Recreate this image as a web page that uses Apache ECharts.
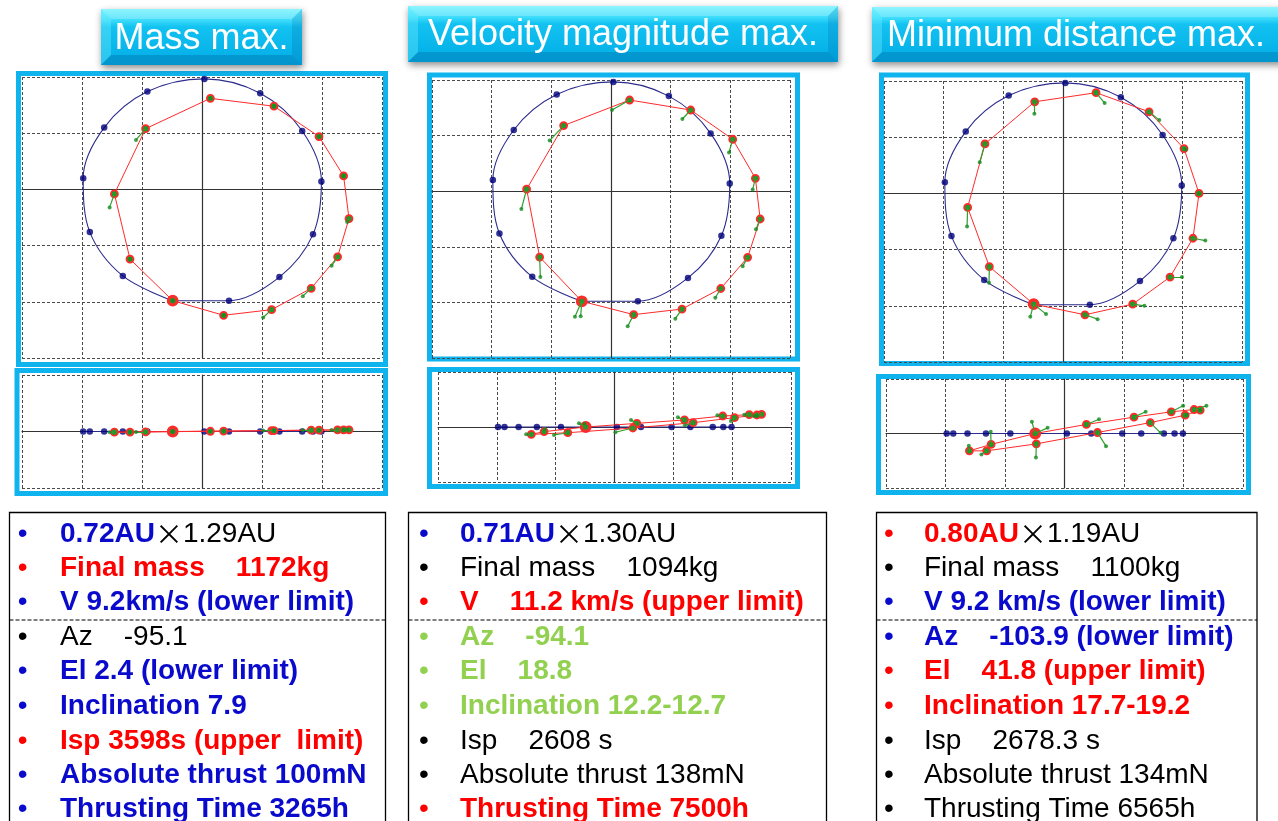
<!DOCTYPE html>
<html>
<head>
<meta charset="utf-8">
<script src="https://cdn.jsdelivr.net/npm/echarts@6/dist/echarts.min.js"></script>
<style>
  html, body { margin: 0; padding: 0; background: #ffffff; }
  #main { width: 1278px; height: 821px; }
</style>
</head>
<body>
<div id="main"></div>
<script>
// Earth positions over one year (AU, ecliptic plane), same for all three cases
const earthX = [-0.245, 0.225, 0.645, 0.925, 0.995, 0.835, 0.485, 0.02, -0.455, -0.815, -0.99, -0.935, -0.66, -0.245];
const earthY = [-0.99, -0.99, -0.78, -0.40, 0.07, 0.52, 0.855, 0.983, 0.87, 0.55, 0.10, -0.38, -0.77, -0.99];

// Case 1: mass max. — spacecraft positions and thrust vector tips (AU)
const massScX = [-0.244, 0.18, 0.58, 0.91, 1.13, 1.225, 1.18, 0.975, 0.60, 0.07, -0.47, -0.73, -0.60, -0.244];
const massScY = [-0.99, -1.12, -1.07, -0.88, -0.60, -0.26, 0.12, 0.47, 0.74, 0.81, 0.54, -0.04, -0.62, -0.99];
const massScZ = [0, 0.004, 0.008, 0.012, 0.014, 0.015, 0.015, 0.012, 0.008, 0.002, -0.004, -0.006, -0.005, 0];
const massThX = [-0.244, 0.18, 0.51, 0.84, 1.08, 1.21, 1.18, 0.975, 0.60, 0.07, -0.55, -0.77, -0.60, -0.244];
const massThY = [-0.99, -1.12, -1.14, -0.95, -0.68, -0.29, 0.12, 0.47, 0.74, 0.81, 0.44, -0.16, -0.62, -0.99];
const massThZ = [0, 0.004, 0.008, 0.012, 0.014, 0.015, 0.015, 0.012, 0.008, 0.002, -0.004, -0.006, -0.005, 0];

// Case 2: velocity magnitude max.
const velScX = [-0.245, 0.19, 0.595, 0.92, 1.145, 1.25, 1.21, 1.02, 0.668, 0.156, -0.397, -0.707, -0.598, -0.245];
const velScY = [-0.99, -1.11, -1.06, -0.875, -0.595, -0.25, 0.116, 0.467, 0.73, 0.82, 0.59, 0.018, -0.592, -0.99];
const velScZ = [0, 0.033, 0.064, 0.10, 0.112, 0.115, 0.109, 0.085, 0.039, -0.009, -0.052, -0.067, -0.042, 0];
const velThX = [-0.302, 0.14, 0.539, 0.874, 1.103, 1.215, 1.187, 0.989, 0.598, 0.008, -0.514, -0.751, -0.592, -0.254];
const velThY = [-1.128, -1.214, -1.146, -0.958, -0.676, -0.342, 0.015, 0.348, 0.649, 0.73, 0.455, -0.161, -0.771, -1.125];
const velThZ = [0.033, 0.064, 0.088, 0.106, 0.112, 0.10, 0.10, 0.055, 0.015, -0.048, -0.073, -0.067, -0.018, 0.03];

// Case 3: minimum distance max.
const distScX = [-0.246, 0.184, 0.584, 0.897, 1.089, 1.14, 1.014, 0.721, 0.277, -0.237, -0.654, -0.799, -0.617, -0.246];
const distScY = [-0.985, -1.08, -0.985, -0.744, -0.399, 0.0, 0.399, 0.726, 0.896, 0.815, 0.44, -0.125, -0.652, -0.985];
const distScZ = [0, 0.083, 0.15, 0.199, 0.22, 0.214, 0.168, 0.10, 0.009, -0.095, -0.159, -0.159, -0.10, 0];
const distThX = [-0.142, 0.29, 0.682, 0.997, 1.193, 1.14, 1.028, 0.807, 0.349, -0.24, -0.698, -0.804, -0.62, -0.274];
const distThY = [-1.074, -1.119, -1.0, -0.744, -0.42, 0.0, 0.39, 0.652, 0.804, 0.708, 0.277, -0.295, -0.795, -1.098];
const distThZ = [0.052, 0.131, 0.199, 0.254, 0.254, 0.214, 0.17, 0.006, -0.116, -0.22, -0.193, -0.113, 0.015, 0.107];

// Panel titles
const titles = ['Mass max.', 'Velocity magnitude max.', 'Minimum distance max.'];

// Text colours
const BLUE = '#0a0acc', RED = '#ff0000', GREEN = '#92d050', BLACK = '#000000';

// Result summaries: [bullet colour, rich text]
const massNotes = [
  [BLUE, '{B|0.72AU}{x|×}{K|1.29AU}'],
  [RED, '{R|Final mass    1172kg}'],
  [BLUE, '{B|V 9.2km/s (lower limit)}'],
  [BLACK, '{K|Az    -95.1}'],
  [BLUE, '{B|El 2.4 (lower limit)}'],
  [BLUE, '{B|Inclination 7.9}'],
  [RED, '{R|Isp 3598s (upper  limit)}'],
  [BLUE, '{B|Absolute thrust 100mN}'],
  [BLUE, '{B|Thrusting Time 3265h}']
];
const velNotes = [
  [BLUE, '{B|0.71AU}{x|×}{K|1.30AU}'],
  [BLACK, '{K|Final mass    1094kg}'],
  [RED, '{R|V    11.2 km/s (upper limit)}'],
  [GREEN, '{G|Az    -94.1}'],
  [GREEN, '{G|El    18.8}'],
  [GREEN, '{G|Inclination 12.2-12.7}'],
  [BLACK, '{K|Isp    2608 s}'],
  [BLACK, '{K|Absolute thrust 138mN}'],
  [RED, '{R|Thrusting Time 7500h}']
];
const distNotes = [
  [RED, '{R|0.80AU}{x|×}{K|1.19AU}'],
  [BLACK, '{K|Final mass    1100kg}'],
  [BLUE, '{B|V 9.2 km/s (lower limit)}'],
  [BLUE, '{B|Az    -103.9 (lower limit)}'],
  [RED, '{R|El    41.8 (upper limit)}'],
  [RED, '{R|Inclination 17.7-19.2}'],
  [BLACK, '{K|Isp    2678.3 s}'],
  [BLACK, '{K|Absolute thrust 134mN}'],
  [BLACK, '{K|Thrusting Time 6565h}']
];

const FONT = '"Liberation Sans", Arial, Helvetica, sans-serif';
const CYAN = '#0fb4ee';

// ---------- plot areas ----------
const grids = [
  { left: 22,  top: 77,  width: 360, height: 281 },  // case 1, top view
  { left: 22,  top: 375, width: 360, height: 113 },  // case 1, side view
  { left: 432, top: 80,  width: 358, height: 278 },  // case 2, top view
  { left: 438, top: 372, width: 353, height: 110 },  // case 2, side view
  { left: 884, top: 81,  width: 358, height: 281 },  // case 3, top view
  { left: 886, top: 379, width: 357, height: 109 }   // case 3, side view
];

const gridLine = { show: true, lineStyle: { color: '#4a4a4a', type: [3, 2], width: 1 } };
const zeroLine = { show: true, onZero: true, lineStyle: { color: '#333333', width: 1.2 } };

const xAxes = grids.map((g, i) => ({
  type: 'value', gridIndex: i, min: -1.5, max: 1.5, interval: 0.5,
  axisLabel: { show: false }, axisTick: { show: false },
  axisLine: zeroLine, splitLine: gridLine
}));
const yAxes = grids.map((g, i) => {
  const side = i % 2 === 1;
  return {
    type: 'value', gridIndex: i,
    min: side ? -0.5 : -1.5, max: side ? 0.5 : 1.0, interval: 0.5,
    axisLabel: { show: false }, axisTick: { show: false },
    axisLine: zeroLine, splitLine: gridLine
  };
});

// ---------- series ----------
const pts = (a, b) => a.map((v, i) => [v, b[i]]);
const series = [];

function addView(gi, ex, ey, sx, sy, tx, ty, smoothOrbit) {
  const ax = { xAxisIndex: gi, yAxisIndex: gi, silent: true, animation: false };
  // Earth orbit
  series.push(Object.assign({
    type: 'line', data: pts(ex, ey), smooth: smoothOrbit ? 0.34 : false,
    symbol: 'none', lineStyle: { color: '#2b2b8c', width: 1.1 }, z: 2
  }, ax));
  // Earth positions
  series.push(Object.assign({
    type: 'scatter', data: pts(ex, ey), symbolSize: 6.5,
    itemStyle: { color: '#00007a' }, z: 3
  }, ax));
  // Spacecraft trajectory
  const traj = pts(sx, sy).map((p, i) => i === 0 ? { value: p, symbolSize: 10 } : p);
  series.push(Object.assign({
    type: 'line', data: traj, symbol: 'circle', symbolSize: 7, showSymbol: true,
    lineStyle: { color: '#ff2a2a', width: 1 },
    itemStyle: { color: '#1f9a2a', borderColor: '#ff2a2a', borderWidth: 1.8 }, z: 4
  }, ax));
  // Thrust vectors
  series.push(Object.assign({
    type: 'lines', coordinateSystem: 'cartesian2d', polyline: false,
    symbol: ['none', 'none'],
    data: sx.map((v, i) => ({ coords: [[v, sy[i]], [tx[i], ty[i]]] })),
    lineStyle: { color: '#2f9e2f', width: 1.2, opacity: 1, curveness: 0 }, z: 5
  }, ax));
  series.push(Object.assign({
    type: 'scatter', data: pts(tx, ty), symbolSize: 4,
    itemStyle: { color: '#148c1e' }, z: 6
  }, ax));
}

const zeros = earthX.map(() => 0);
const cases = [
  [massScX, massScY, massScZ, massThX, massThY, massThZ],
  [velScX, velScY, velScZ, velThX, velThY, velThZ],
  [distScX, distScY, distScZ, distThX, distThY, distThZ]
];
cases.forEach((c, k) => {
  addView(2 * k, earthX, earthY, c[0], c[1], c[3], c[4], true);
  addView(2 * k + 1, earthX, zeros, c[0], c[2], c[3], c[5], false);
});

// ---------- decorations ----------
const graphic = [];

// cyan frames around each plot
const frames = [
  [18.5, 73.5, 367, 291], [17, 370.5, 368.5, 123],
  [429.5, 75, 368, 284], [429.5, 369.5, 368, 117],
  [881.5, 75, 366, 288.5], [878.5, 376.5, 370, 116]
];
frames.forEach(f => graphic.push({
  type: 'rect', silent: true,
  shape: { x: f[0], y: f[1], width: f[2], height: f[3] },
  style: { fill: 'none', stroke: CYAN, lineWidth: 5 }
}));

// bevelled title buttons
function titleBox(x, y, w, h, text, cx, cy) {
  const b = 10;
  graphic.push({
    type: 'rect', silent: true,
    shape: { x: x, y: y, width: w, height: h },
    style: {
      fill: {
        type: 'linear', x: 0, y: 0, x2: 0, y2: 1,
        colorStops: [
          { offset: 0, color: '#6ef3ff' }, { offset: 0.2, color: '#3cdcfb' },
          { offset: 0.32, color: '#12c2f1' }, { offset: 1, color: '#02ade6' }
        ]
      },
      shadowBlur: 7, shadowColor: 'rgba(0,0,0,0.45)', shadowOffsetX: 1, shadowOffsetY: 3
    }
  });
  const poly = (points, fill) => graphic.push({ type: 'polygon', silent: true, shape: { points }, style: { fill } });
  poly([[x, y], [x + w, y], [x + w - b, y + b], [x + b, y + b]], 'rgba(255,255,255,0.22)');
  poly([[x, y], [x + b, y + b], [x + b, y + h - b], [x, y + h]], 'rgba(120,240,255,0.35)');
  poly([[x + w, y], [x + w - b, y + b], [x + w - b, y + h - b], [x + w, y + h]], 'rgba(0,70,140,0.16)');
  poly([[x, y + h], [x + b, y + h - b], [x + w - b, y + h - b], [x + w, y + h]], 'rgba(0,60,120,0.22)');
  graphic.push({
    type: 'text', silent: true, x: cx, y: cy,
    style: {
      text: text, fill: '#ffffff', font: '36px ' + FONT,
      fontSize: 36, fontFamily: FONT,
      textAlign: 'center', align: 'center', textVerticalAlign: 'middle', verticalAlign: 'middle'
    }
  });
}
titleBox(101, 9, 201, 56, titles[0], 201.5, 39.5);
titleBox(408, 6, 430, 56, titles[1], 623, 35.5);
titleBox(872, 7, 420, 55, titles[2], 1076, 36);

// summary boxes
const richStyles = {
  K: { fill: BLACK, color: BLACK, fontSize: 28, fontFamily: FONT, fontWeight: 'normal' },
  B: { fill: BLUE, color: BLUE, fontSize: 28, fontFamily: FONT, fontWeight: 'bold' },
  R: { fill: RED, color: RED, fontSize: 28, fontFamily: FONT, fontWeight: 'bold' },
  G: { fill: GREEN, color: GREEN, fontSize: 28, fontFamily: FONT, fontWeight: 'bold' },
  x: { fill: BLACK, color: BLACK, fontSize: 28, fontFamily: '"Noto Sans CJK JP", "DejaVu Sans", sans-serif',
       fontWeight: 'normal', width: 28, align: 'center' }
};
const baselines = [542, 576, 610, 645, 679, 714, 749, 783, 817];

function noteBox(notes, bx, bw, bulletX, textX) {
  graphic.push({
    type: 'rect', silent: true,
    shape: { x: bx, y: 512.5, width: bw, height: 340 },
    style: { fill: 'none', stroke: '#000000', lineWidth: 1.3 }
  });
  graphic.push({
    type: 'line', silent: true,
    shape: { x1: bx, y1: 620, x2: bx + bw, y2: 620 },
    style: { stroke: '#000000', lineWidth: 1.2, lineDash: [4, 2] }
  });
  notes.forEach((n, i) => {
    const y = baselines[i] - 7.5;
    graphic.push({
      type: 'text', silent: true, x: bulletX, y: y,
      style: {
        text: '•', fill: n[0], font: '28px ' + FONT, fontSize: 28, fontFamily: FONT,
        textAlign: 'center', align: 'center', textVerticalAlign: 'middle', verticalAlign: 'middle'
      }
    });
    graphic.push({
      type: 'text', silent: true, x: textX, y: y,
      style: {
        text: n[1], rich: richStyles, fill: BLACK, fontSize: 28, fontFamily: FONT,
        textAlign: 'left', align: 'left', textVerticalAlign: 'middle', verticalAlign: 'middle'
      }
    });
  });
}
noteBox(massNotes, 9.5, 376, 22.7, 60);
noteBox(velNotes, 408.5, 418, 424, 460);
noteBox(distNotes, 876.5, 380.5, 889, 924);

// ---------- chart ----------
const chart = echarts.init(document.getElementById('main'), null, { renderer: 'canvas' });
chart.setOption({
  backgroundColor: '#ffffff',
  animation: false,
  grid: grids.map(g => Object.assign({ show: false, containLabel: false, outerBoundsMode: 'none' }, g)),
  xAxis: xAxes,
  yAxis: yAxes,
  series: series,
  graphic: graphic
});
</script>
</body>
</html>
